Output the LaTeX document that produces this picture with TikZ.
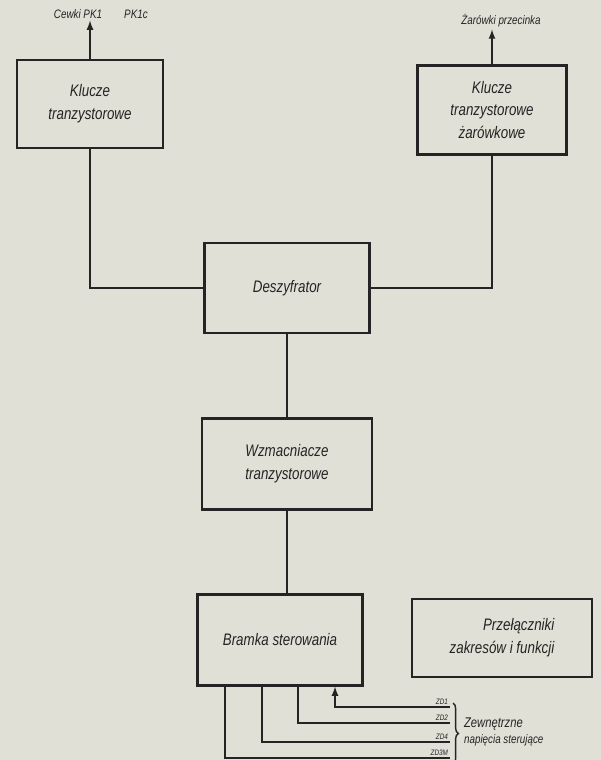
\documentclass[tikz,border=0pt]{standalone}
\usepackage{fontspec}
\newfontfamily\diagfont[FakeStretch=0.8]{Liberation Sans}
\usepackage{tikz}
\usetikzlibrary{shapes,decorations.pathreplacing}
\definecolor{paper}{RGB}{224,224,214}
\definecolor{ink}{RGB}{36,36,36}

\begin{document}
\begin{tikzpicture}[x=0.02cm,y=-0.02cm,>=latex,
	blok/.style={rectangle,draw=ink,line width=1.3pt,text=ink,
		font=\diagfont\itshape\fontsize{9.5}{13}\selectfont},
	lin/.style={draw=ink,line width=0.8pt},
	opis/.style={text=ink,inner sep=1pt,font=\diagfont\itshape\fontsize{7}{9}\selectfont},
	zd/.style={text=ink,inner sep=1pt,font=\diagfont\itshape\fontsize{4.5}{5}\selectfont}]

	\fill[paper] (0,0) rectangle (601,760);
	\useasboundingbox (0,0) rectangle (601,760);

		\node[blok,align=center,minimum width=2.92cm,minimum height=1.76cm] (klucze) at (90,104) {Klucze\\tranzystorowe};
		\node[blok,align=center,minimum width=2.98cm,minimum height=1.78cm] (zarklucze) at (492,110) {Klucze\\tranzystorowe\\żarówkowe};
		\node[blok,minimum width=3.3cm,minimum height=1.8cm] (deszyfr) at (287,288) {Deszyfrator};
		\node[blok,align=left,minimum width=3.4cm,minimum height=1.82cm] (wzmac) at (287,464) {Wzmacniacze\\tranzystorowe};
		\node[blok,minimum width=3.3cm,minimum height=1.82cm] (bramka) at (280,640) {Bramka sterowania};
		\node[blok,align=right,minimum width=3.6cm,minimum height=1.56cm] (przel) at (502,638) {Przełączniki\\zakresów i funkcji};

		\node[opis] (cewki) at (78,14) {Cewki PK1};
		\node[opis] (pk1c) at (136,14) {PK1c};
		\node[opis] (zarowki) at (501,21) {Żarówki przecinka};

		\draw[lin,->] (klucze.north) -- (klucze.north |- cewki.south);
		\draw[lin,->] (zarklucze.north) -- (zarklucze.north |- zarowki.south);
		\draw[lin] (klucze.south) |- (deszyfr.west);
		\draw[lin] (zarklucze.south) |- (deszyfr.east);
		\draw[lin] (deszyfr.south) -- (wzmac.north);
		\draw[lin] (wzmac.south) -- (wzmac.south |- bramka.north);

		% wejscia bramki
		\coordinate (w1) at (335,0);
		\coordinate (w2) at (298,0);
		\coordinate (w3) at (262,0);
		\coordinate (w4) at (225,0);
		\coordinate (zd1) at (450,707);
		\coordinate (zd2) at (450,723);
		\coordinate (zd4) at (450,742);
		\coordinate (zd3) at (450,758);

		\draw[lin,->] (zd1) -| (bramka.south -| w1);
		\draw[lin] (bramka.south -| w2) |- (zd2);
		\draw[lin] (bramka.south -| w3) |- (zd4);
		\draw[lin] (bramka.south -| w4) |- (zd3);

		\node[zd,above left] (lzd1) at (zd1) {ZD1};
		\node[zd,above left] (lzd2) at (zd2) {ZD2};
		\node[zd,above left] (lzd4) at (zd4) {ZD4};
		\node[zd,above left] (lzd3) at (zd3) {ZD3M};

		\draw[lin,decorate,decoration={brace,amplitude=3pt}] (453,703) -- (453,764);
		\node[opis,anchor=west,align=left] (zewn) at (462,732) {\fontsize{8}{13}\selectfont Zewnętrzne\\napięcia sterujące};

	\end{tikzpicture}
\end{document}
